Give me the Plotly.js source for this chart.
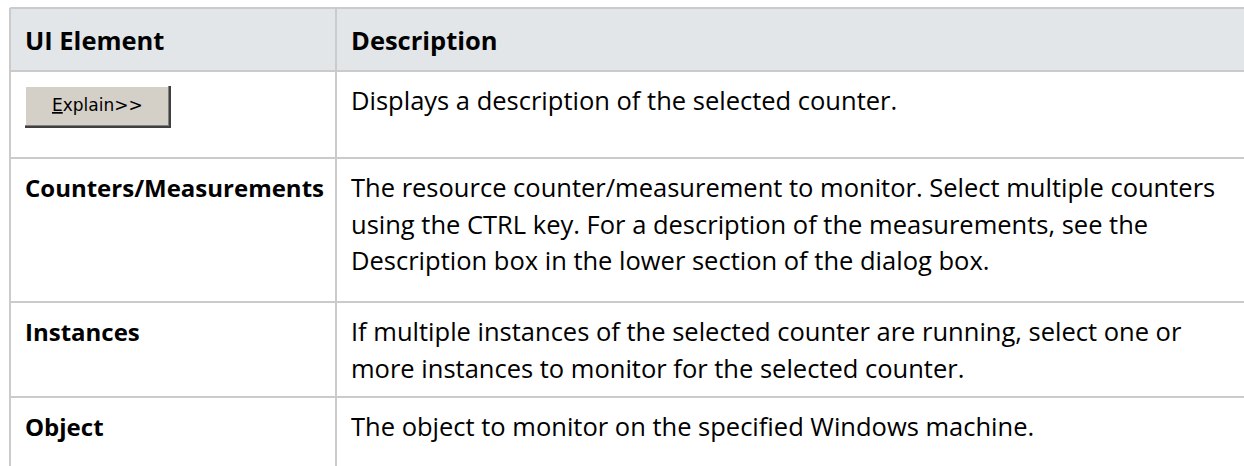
<!DOCTYPE html>
<html><head><meta charset="utf-8">
<script src="https://cdn.plot.ly/plotly-3.0.1.min.js"></script>
<style>html,body{margin:0;padding:0;background:#fff;overflow:hidden}#chart{width:1244px;height:466px}</style>
</head><body><div id="chart"></div>
<script>
// ---- data ----
const headers = ["UI Element", "Description"];
const elements = ["Explain>>", "Counters/Measurements", "Instances", "Object"];
const elementIsButton = [true, false, false, false];
const descriptions = [
  ["Displays a description of the selected counter."],
  ["The resource counter/measurement to monitor. Select multiple counters",
   "using the CTRL key. For a description of the measurements, see the",
   "Description box in the lower section of the dialog box."],
  ["If multiple instances of the selected counter are running, select one or",
   "more instances to monitor for the selected counter."],
  ["The object to monitor on the specified Windows machine."]
];

// ---- layout constants ----
const W = 1244, H = 466;
const rowEdges = [8, 71, 158, 302, 397, 520];
const colLeft = 10, colDiv = 336;
const padX = 13, firstLine = 29, lineGap = 36.5;
const border = '#cbcbcb';
const FONT = '"Open Sans", sans-serif';

const shapes = [];
const ann = [];

// header fill
shapes.push({type:'rect', xref:'x', yref:'y', x0:colLeft, x1:W+20, y0:rowEdges[0], y1:rowEdges[1],
  fillcolor:'#e3e6e8', line:{width:0}, layer:'below'});
// horizontal rules
for (let i = 0; i < rowEdges.length - 1; i++) {
  shapes.push({type:'line', xref:'x', yref:'y', x0:colLeft, x1:W+20, y0:rowEdges[i], y1:rowEdges[i],
    line:{color:border, width:2}});
}
// vertical rules
[colLeft, colDiv].forEach(x => shapes.push({type:'line', xref:'x', yref:'y', x0:x, x1:x, y0:rowEdges[0], y1:H+20,
  line:{color:border, width:2}}));

// header text
headers.forEach((h, c) => ann.push({xref:'x', yref:'y', x:(c===0?colLeft:colDiv)+padX, y:(rowEdges[0]+rowEdges[1])/2,
  xanchor:'left', yanchor:'middle', showarrow:false, text:'<b>'+h+'</b>',
  font:{family:FONT, size:25.5, color:'#000'}}));

// body rows
elements.forEach((el, r) => {
  const top = rowEdges[r+1];
  if (elementIsButton[r]) {
    const bx0 = colLeft+15, bx1 = colLeft+161, by0 = top+15, by1 = top+57;
    shapes.push({type:'rect', xref:'x', yref:'y', x0:bx0, x1:bx1, y0:by0, y1:by1, fillcolor:'#d4d0c8', line:{width:0}});
    shapes.push({type:'line', xref:'x', yref:'y', x0:bx0, x1:bx1, y0:by0+0.5, y1:by0+0.5, line:{color:'#ffffff', width:1}});
    shapes.push({type:'line', xref:'x', yref:'y', x0:bx0+0.5, x1:bx0+0.5, y0:by0, y1:by1, line:{color:'#ffffff', width:1}});
    shapes.push({type:'line', xref:'x', yref:'y', x0:bx0, x1:bx1, y0:by1-2.5, y1:by1-2.5, line:{color:'#808080', width:1}});
    shapes.push({type:'line', xref:'x', yref:'y', x0:bx1-2.5, x1:bx1-2.5, y0:by0, y1:by1, line:{color:'#808080', width:1}});
    shapes.push({type:'line', xref:'x', yref:'y', x0:bx0, x1:bx1, y0:by1-1, y1:by1-1, line:{color:'#404040', width:2}});
    shapes.push({type:'line', xref:'x', yref:'y', x0:bx1-1, x1:bx1-1, y0:by0, y1:by1, line:{color:'#404040', width:2}});
    ann.push({xref:'x', yref:'y', x:(bx0+bx1)/2 - 1, y:(by0+by1)/2 - 2, xanchor:'center', yanchor:'middle', showarrow:false,
      text:'<u>'+el.charAt(0)+'</u>'+el.slice(1), font:{family:'"DejaVu Sans", sans-serif', size:17, color:'#000'}});
  } else {
    ann.push({xref:'x', yref:'y', x:colLeft+padX, y:top+firstLine, xanchor:'left', yanchor:'middle', showarrow:false,
      text:'<b>'+el+'</b>', font:{family:FONT, size:24, color:'#000'}});
  }
  descriptions[r].forEach((line, k) => ann.push({xref:'x', yref:'y', x:colDiv+padX, y:top+firstLine+k*lineGap,
    xanchor:'left', yanchor:'middle', showarrow:false, text:line, font:{family:FONT, size:25.5, color:'#000'}}));
});

Plotly.newPlot('chart', [{type:'scatter', x:[], y:[], hoverinfo:'skip', showlegend:false}], {
  width:W, height:H, margin:{l:0, r:0, t:0, b:0},
  paper_bgcolor:'#ffffff', plot_bgcolor:'#ffffff',
  xaxis:{range:[0, W], visible:false, fixedrange:true},
  yaxis:{range:[H, 0], visible:false, fixedrange:true},
  shapes:shapes, annotations:ann, showlegend:false
}, {displayModeBar:false, staticPlot:true});
</script></body></html>
